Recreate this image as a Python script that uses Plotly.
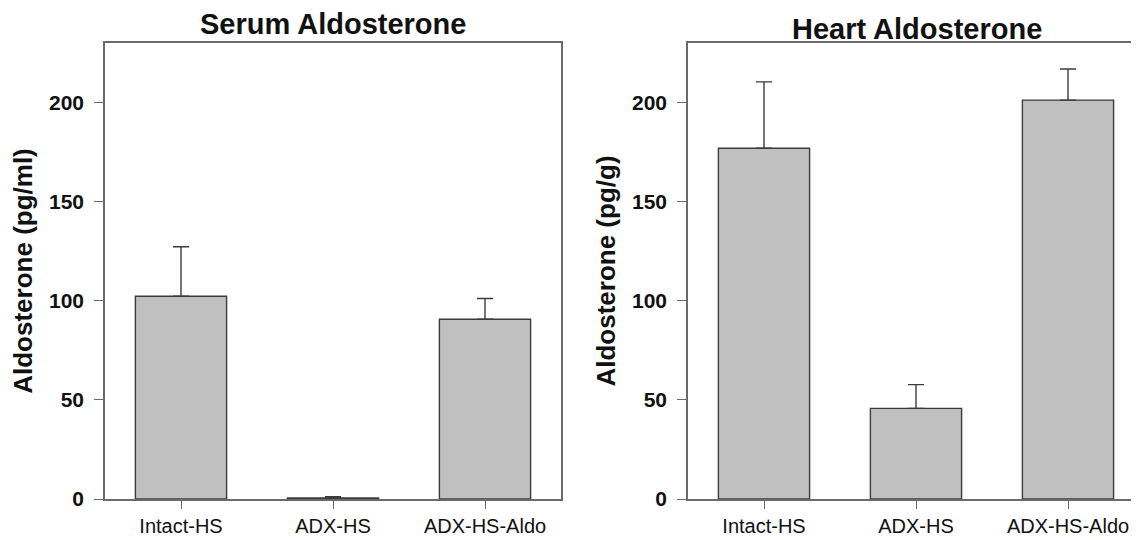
import plotly.graph_objects as go

categories = ["Intact-HS", "ADX-HS", "ADX-HS-Aldo"]
serum_values = [102.3, 0.5, 90.7]
serum_errors = [24.9, 0.6, 10.4]
heart_values = [176.9, 45.7, 201.2]
heart_errors = [33.5, 12.0, 15.7]
y_ticks = [0, 50, 100, 150, 200]

FONT = "Liberation Sans, Arial, sans-serif"
BAR_FILL = "#c0c0c0"
EDGE = "#3c3c3c"
FRAME = "#6a6a6a"

# the page body adds an 8px margin, so the figure is laid out 8px smaller
OFF = 8
W, H = 1139 - OFF, 540 - OFF

def px(x):
    return (x - OFF) / W

def py(y):
    return (H - (y - OFF)) / H

fig = go.Figure()

fig.add_trace(go.Bar(
    x=categories, y=serum_values, width=0.6,
    marker=dict(color=BAR_FILL, line=dict(color=EDGE, width=1.4)),
    error_y=dict(type="data", array=serum_errors, symmetric=False,
                 arrayminus=[0, 0, 0], color=EDGE, thickness=1.4, width=8),
    xaxis="x", yaxis="y", showlegend=False))

fig.add_trace(go.Bar(
    x=categories, y=heart_values, width=0.6,
    marker=dict(color=BAR_FILL, line=dict(color=EDGE, width=1.4)),
    error_y=dict(type="data", array=heart_errors, symmetric=False,
                 arrayminus=[0, 0, 0], color=EDGE, thickness=1.4, width=8),
    xaxis="x2", yaxis="y2", showlegend=False))

def xaxis_cfg(domain, rng, anchor):
    return dict(domain=domain, range=rng, anchor=anchor, showline=True,
                linecolor=FRAME, linewidth=1.6, mirror=True, ticks="outside",
                ticklen=8, tickcolor=FRAME, tickwidth=1.3, showgrid=False,
                zeroline=False,
                tickfont=dict(family=FONT, size=20, color="#111111"),
                categoryorder="array", categoryarray=categories,
                automargin=False)

def yaxis_cfg(anchor, title, mirror):
    return dict(domain=[py(499), py(43)], range=[0, 230],
                anchor=anchor, showline=True, linecolor=FRAME, linewidth=1.6,
                mirror=mirror, ticks="outside", ticklen=9, tickcolor=FRAME,
                tickwidth=1.3, tickvals=y_ticks, showgrid=False, zeroline=False,
                ticklabelstandoff=6,
                tickfont=dict(family=FONT, size=21, color="#111111", weight="bold"),
                title=dict(text=title, standoff=9,
                           font=dict(family=FONT, size=26, color="#111111", weight="bold")),
                automargin=False)

fig.update_layout(
    width=W, height=H,
    margin=dict(l=0, r=0, t=0, b=0),
    paper_bgcolor="white", plot_bgcolor="white",
    xaxis=xaxis_cfg([px(105), px(561)], [-0.5, 2.5], "y"),
    yaxis=yaxis_cfg("x", "Aldosterone (pg/ml)", True),
    xaxis2=xaxis_cfg([px(688), 1.0], [-0.5, 2.5 - 5 / 152], "y2"),
    yaxis2=yaxis_cfg("x2", "Aldosterone (pg/g)", False),
    annotations=[
        dict(text="Serum Aldosterone", x=px(333), y=py(24), xref="paper",
             yref="paper", showarrow=False, xanchor="center", yanchor="middle",
             font=dict(family=FONT, size=29, color="#111111", weight="bold")),
        dict(text="Heart Aldosterone", x=px(917), y=py(29), xref="paper",
             yref="paper", showarrow=False, xanchor="center", yanchor="middle",
             font=dict(family=FONT, size=29, color="#111111", weight="bold")),
    ],
)

fig.write_html("out.html")
